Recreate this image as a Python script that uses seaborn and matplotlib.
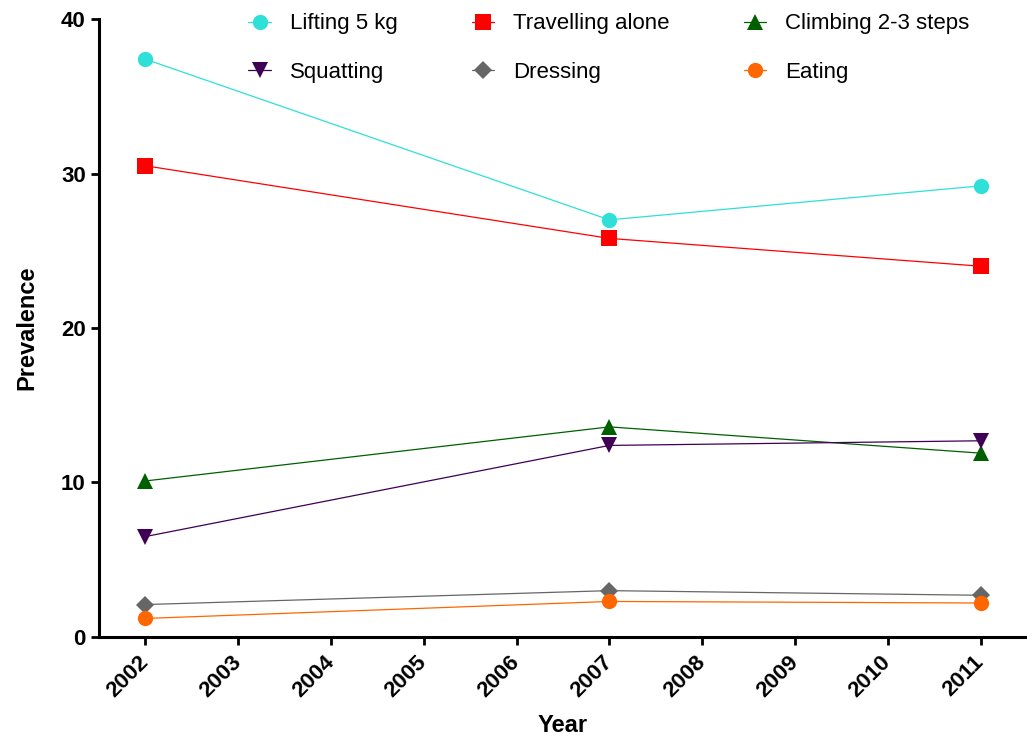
import pandas as pd
import seaborn as sns
import matplotlib.pyplot as plt

# values
years = [2002, 2007, 2011]
lifting = [37.4, 27.0, 29.2]
travelling = [30.5, 25.8, 24.0]
climbing = [10.1, 13.6, 11.9]
squatting = [6.5, 12.4, 12.7]
dressing = [2.1, 3.0, 2.7]
eating = [1.2, 2.3, 2.2]

labels = ['Lifting 5 kg', 'Travelling alone', 'Climbing 2-3 steps',
          'Squatting', 'Dressing', 'Eating']
series = [lifting, travelling, climbing, squatting, dressing, eating]
colors = ['#2EE0D8', '#FF0000', '#006000', '#3F0055', '#666666', '#FF6600']
marks = ['o', 's', '^', 'v', 'D', 'o']
msize = [11, 11, 11, 11, 9, 11]

rows = []
for lab, vals in zip(labels, series):
    for y, v in zip(years, vals):
        rows.append({'Year': y, 'Prevalence': v, 'Activity': lab})
df = pd.DataFrame(rows)

sns.set_style('ticks')
plt.rcParams['font.family'] = ['Liberation Sans', 'DejaVu Sans']
plt.rcParams['text.color'] = 'black'
plt.rcParams['axes.labelcolor'] = 'black'
plt.rcParams['xtick.color'] = 'black'
plt.rcParams['ytick.color'] = 'black'

fig = plt.figure(figsize=(10.27, 7.37), dpi=100)
ax = fig.add_axes([0.0964, 0.1357, 0.9036, 0.8385])

handles = []
for lab, col, mk, ms in zip(labels, colors, marks, msize):
    sub = df[df['Activity'] == lab]
    sns.lineplot(data=sub, x='Year', y='Prevalence', color=col, marker=mk,
                 markersize=ms, markeredgewidth=0, linewidth=0.9, ax=ax,
                 label=lab)
    handles.append(ax.lines[-1])

ax.get_legend().remove()
order = [0, 3, 1, 4, 2, 5]
leg = fig.legend([handles[i] for i in order], [labels[i] for i in order],
                 ncol=3, frameon=False, loc='upper left',
                 bbox_to_anchor=(0.2224, 1.009), fontsize=16,
                 handlelength=1.0, handletextpad=0.85, columnspacing=3.35,
                 labelspacing=1.25)

ax.set_xlim(2001.5, 2011.5)
ax.set_ylim(0, 40)
ax.set_xticks(range(2002, 2012))
ax.set_yticks([0, 10, 20, 30, 40])
ax.set_xticklabels([str(y) for y in range(2002, 2012)], rotation=45,
                   ha='right', va='center', rotation_mode='anchor',
                   fontweight='bold', fontsize=16)
for t in ax.get_yticklabels():
    t.set_fontweight('bold')
    t.set_fontsize(16)
ax.tick_params(axis='both', width=2, length=6, color='black')
ax.tick_params(axis='x', pad=10)
ax.set_xlabel('Year', fontsize=17, fontweight='bold', labelpad=9)
ax.set_ylabel('Prevalence', fontsize=17, fontweight='bold', labelpad=16)

sns.despine(ax=ax)
for s in ['left', 'bottom']:
    ax.spines[s].set_linewidth(2.2)
    ax.spines[s].set_color('black')

fig.savefig('out.png', dpi=100)
